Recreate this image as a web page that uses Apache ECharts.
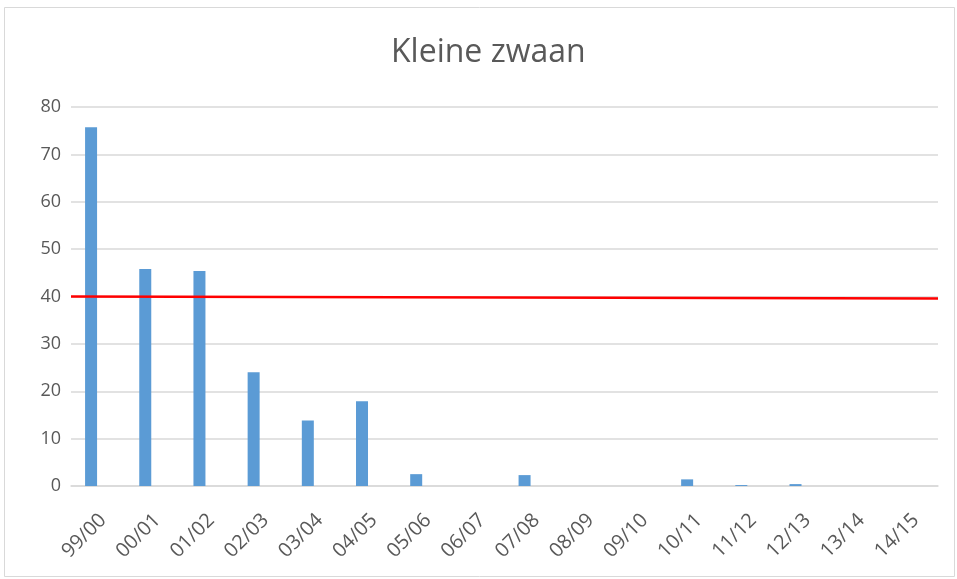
<!DOCTYPE html>
<html>
<head>
<meta charset="utf-8">
<script src="https://cdn.jsdelivr.net/npm/echarts@6/dist/echarts.min.js"></script>
<style>html,body{margin:0;padding:0;background:#fff}#c{width:957px;height:579px}</style>
</head>
<body>
<div id="c"></div>
<script>
var categories = ['99/00','00/01','01/02','02/03','03/04','04/05','05/06','06/07','07/08','08/09','09/10','10/11','11/12','12/13','13/14','14/15'];
var counts = [75.7, 45.8, 45.4, 24.0, 13.8, 17.9, 2.5, 0, 2.3, 0, 0, 1.4, 0.2, 0.4, 0, 0];
var threshold = [[0, 40], [1, 39.6]];
var yTicks = {min: 0, max: 80, interval: 10};

var chart = echarts.init(document.getElementById('c'));
chart.setOption({
  animation: false,
  backgroundColor: '#fff',
  textStyle: {fontFamily: 'Open Sans, Noto Sans, sans-serif'},
  title: {
    text: 'Kleine zwaan', left: 386, top: 32,
    textStyle: {fontSize: 32, fontWeight: 'normal', color: '#595959', fontFamily: 'Open Sans'}
  },
  graphic: [{type: 'rect', shape: {x: 4.5, y: 7.5, width: 950, height: 569}, style: {fill: 'none', stroke: '#d9d9d9', lineWidth: 1}, silent: true}],
  grid: {left: 71, right: 19, top: 107, bottom: 93},
  xAxis: [{
    type: 'category', data: categories,
    axisLine: {lineStyle: {color: '#d9d9d9', width: 1.5}},
    axisTick: {show: false},
    axisLabel: {rotate: 45, color: '#595959', fontSize: 20, margin: 36, interval: 0, padding: [0, -7, 0, 0]}
  }, {
    type: 'value', min: 0, max: 1, show: false
  }],
  yAxis: {
    type: 'value', min: yTicks.min, max: yTicks.max, interval: yTicks.interval,
    axisLine: {show: false}, axisTick: {show: false},
    axisLabel: {color: '#595959', fontSize: 18, margin: 10},
    splitLine: {lineStyle: {color: '#d9d9d9', width: 1.5}}
  },
  series: [{
    type: 'bar', data: counts, barWidth: 12, barGap: '17%',
    itemStyle: {color: '#5b9bd5'}
  }, {
    type: 'bar', data: [], barWidth: 12
  }, {
    type: 'line', xAxisIndex: 1, data: threshold, symbol: 'none',
    lineStyle: {color: '#ff0000', width: 2.5}
  }]
});
</script>
</body>
</html>
